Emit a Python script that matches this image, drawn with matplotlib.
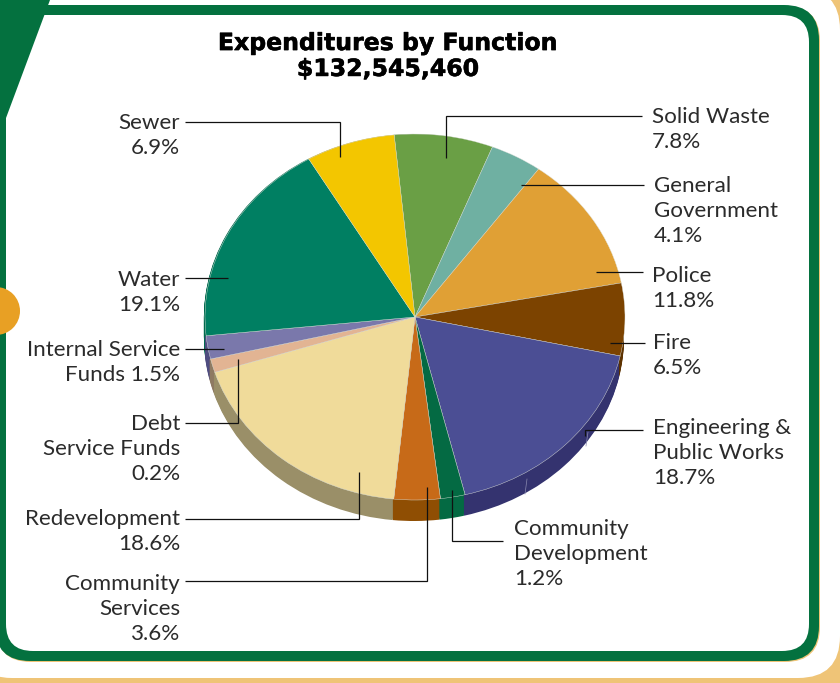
import matplotlib
matplotlib.use('Agg')
import matplotlib.pyplot as plt
import matplotlib.patheffects as pe
from matplotlib.patches import FancyBboxPatch, Polygon, Circle

# share of each slice as drawn (the printed percent goes in the labels)
slices = ['Solid Waste', 'General', 'Police', 'Fire', 'Engineering', 'Comm Dev',
          'Comm Services', 'Redevelopment', 'Debt', 'Internal', 'Water', 'Sewer']
shares = [7.6, 4.0, 12.0, 6.4, 17.75, 1.9, 3.55, 18.5, 1.2, 2.05, 18.2, 6.85]
top_colors = ['#6a9f45', '#6fb0a2', '#e0a035', '#7c4300', '#4b4e94', '#046a43',
              '#c76a18', '#f0db9a', '#e2b493', '#7a78ab', '#007f62', '#f3c600']
side_colors = ['#4f7733', '#538479', '#a87828', '#5d3200', '#34336f', '#046a43',
               '#8f4e03', '#9a8f68', '#8e7a62', '#4f4d80', '#006a4d', '#b69400']

title = 'Expenditures by Function\n$132,545,460'

labels_left = [
    ('Sewer\n6.9%', 122),
    ('Water\n19.1%', 279),
    ('Internal Service\nFunds 1.5%', 349),
    ('Debt\nService Funds\n0.2%', 423),
    ('Redevelopment\n18.6%', 518),
    ('Community\nServices\n3.6%', 583),
]
labels_right = [
    ('Solid Waste\n7.8%', 652, 116),
    ('General\nGovernment\n4.1%', 654, 185),
    ('Police\n11.8%', 652, 275),
    ('Fire\n6.5%', 653, 342),
    ('Engineering &\nPublic Works\n18.7%', 653, 427),
    ('Community\nDevelopment\n1.2%', 514, 528),
]
leaders = [
    [(185, 122), (340, 122), (340, 157)],
    [(642, 116), (446, 116), (446, 158)],
    [(644, 185), (521, 185)],
    [(643, 272), (596, 272)],
    [(645, 343), (610, 343)],
    [(643, 430), (585, 430), (585, 436)],
    [(503, 541), (452, 541), (452, 490)],
    [(185, 581), (427, 581), (427, 487)],
    [(185, 519), (359, 519), (359, 472)],
    [(185, 423), (238, 423), (238, 359)],
    [(185, 349), (224, 349)],
    [(185, 278), (228, 278)],
]
# thin light joins on the pie's side wall
seams = [
    [(527, 479), (525, 494)],
    [(588, 432), (586, 446)],
]

cream = '#efc477'
green = '#04713f'
orange = '#e8a024'
font = 'Lato'


def rounded(ax, x0, y0, x1, y1, r, color, z):
    ax.add_patch(FancyBboxPatch((x0 + r, y0 + r), x1 - x0 - 2*r, y1 - y0 - 2*r,
                                boxstyle='round,pad=%g,rounding_size=%g' % (r, r),
                                fc=color, ec='none', zorder=z))


fig = plt.figure(figsize=(8.4, 6.83), dpi=100, facecolor=cream)

bg = fig.add_axes([0, 0, 1, 1])
bg.set_xlim(0, 840)
bg.set_ylim(683, 0)
bg.axis('off')
rounded(bg, -30, -12, 840, 678, 42, 'white', 1)
rounded(bg, -4, 6, 820, 662, 35, cream, 2)
rounded(bg, -5, 5, 819, 661, 35, green, 3)
rounded(bg, 6, 15, 809, 651, 27, 'white', 4)
bg.add_patch(Polygon([(0, 0), (50, 0), (6, 118), (6, 132), (0, 132)], fc=green, ec='none', zorder=5))
bg.add_patch(Circle((-4, 311), 24, fc=orange, ec='none', zorder=6))

# pie axes: limits stretched so the circle comes out as the flattened ellipse
depth = 21 / 183
pie_ax = fig.add_axes([205/840, (683-521)/683, 420/840, 387/683])
pie_ax.patch.set_alpha(0)
for i in range(22):
    off = depth * (1 - i / 21)
    pie_ax.pie(shares, colors=side_colors, startangle=95.7, counterclock=False,
               center=(-0.005, -off), radius=1, wedgeprops={'linewidth': 0})
pie_ax.pie(shares, colors=top_colors, startangle=95.7, counterclock=False,
           center=(0, 0), radius=1, wedgeprops={'linewidth': 0.3, 'edgecolor': '#dfe3dc'})
pie_ax.set_xlim(-1, 1)
pie_ax.set_ylim(-1 - depth, 1)
pie_ax.set_aspect('auto')
pie_ax.axis('off')

# overlay for text and leaders
top = fig.add_axes([0, 0, 1, 1])
top.set_xlim(0, 840)
top.set_ylim(683, 0)
top.axis('off')
top.patch.set_alpha(0)

for line in seams:
    top.plot([p[0] for p in line], [p[1] for p in line], color='#8a8ab0', lw=0.5)
for line in leaders:
    top.plot([p[0] for p in line], [p[1] for p in line], color='#111111', lw=0.9,
             solid_joinstyle='miter', solid_capstyle='butt')

top.text(388, 56, title, ha='center', va='center', fontsize=17, fontweight='bold',
         family='DejaVu Sans', color='black', linespacing=1.1,
         path_effects=[pe.withStroke(linewidth=0.4, foreground='black')])

for txt, y in labels_left:
    top.text(180, y - 9, txt, ha='right', va='top', fontsize=16.1, family=font,
             color='#2b2b2b', linespacing=1.3)
for txt, x, y in labels_right:
    top.text(x, y - 9, txt, ha='left', va='top', fontsize=16.1, family=font,
             color='#2b2b2b', linespacing=1.3)

fig.savefig('out.png', dpi=100, facecolor=cream)
